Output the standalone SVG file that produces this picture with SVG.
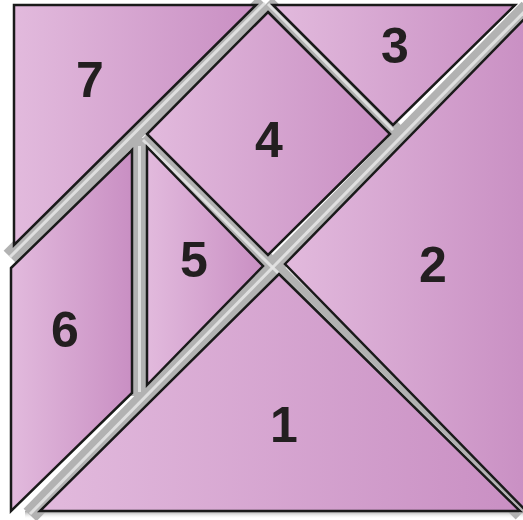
<svg xmlns="http://www.w3.org/2000/svg" width="523" height="520" viewBox="0 0 523 520">
<defs>
<linearGradient id="pink" x1="0" y1="0" x2="1" y2="0">
<stop offset="0" stop-color="#e2badd"/>
<stop offset="1" stop-color="#c98fc3"/>
</linearGradient>
<linearGradient id="shadow" x1="0" y1="0" x2="0" y2="1">
<stop offset="0" stop-color="#a0a0a0"/>
<stop offset="1" stop-color="#ffffff" stop-opacity="0"/>
</linearGradient>
<style>
.piece{fill:url(#pink);stroke:#1a1a1a;stroke-width:2.5;stroke-linejoin:miter}
.num{font-family:"Liberation Sans","Open Sans",Arial,sans-serif;font-weight:bold;font-size:50px;fill:#231f20;text-anchor:middle}
.gap{stroke:#b2b2b2;stroke-width:18;fill:none}
.shine{stroke:#e6e6e6;stroke-width:3;fill:none;stroke-opacity:0.85}
</style>
</defs>
<rect width="523" height="520" fill="#ffffff"/>
<rect x="25" y="511" width="498" height="8" fill="url(#shadow)"/>
<g id="gaps">
<line class="gap" x1="264" y1="3" x2="10" y2="257"/>
<line class="gap" x1="528" y1="8" x2="30" y2="515"/>
<line class="gap" x1="266" y1="4" x2="395" y2="132"/>
<line class="gap" x1="142" y1="139" x2="522" y2="513"/>
<line class="gap" x1="139.5" y1="138" x2="139.5" y2="396"/>
<line class="shine" x1="265" y1="3" x2="10" y2="257"/>
<line class="shine" x1="526" y1="10" x2="30" y2="514"/>
<line class="shine" x1="268" y1="4" x2="393" y2="130"/>
<line class="shine" x1="143" y1="140" x2="521" y2="512"/>
<line class="shine" x1="139.5" y1="146" x2="139.5" y2="392"/>
</g>
<g id="piece7">
<polygon class="piece" points="14,5 256,5 14,245"/>
<text class="num" x="90" y="97">7</text>
</g>
<g id="piece3">
<polygon class="piece" points="273,5 515,5 393,125"/>
<text class="num" x="395" y="63">3</text>
</g>
<g id="piece4">
<polygon class="piece" points="268,12 390,134 268,255 147,134"/>
<text class="num" x="269" y="157">4</text>
</g>
<g id="piece2">
<polygon class="piece" points="285,264 530,13 530,515"/>
<text class="num" x="433" y="282">2</text>
</g>
<g id="piece1">
<polygon class="piece" points="279,274 520,511 40,511"/>
<text class="num" x="284" y="442">1</text>
</g>
<g id="piece5">
<polygon class="piece" points="147,147 263,266 147,385"/>
<text class="num" x="194" y="277">5</text>
</g>
<g id="piece6">
<polygon class="piece" points="11,268 132,150 132,393 11,511"/>
<text class="num" x="65" y="347">6</text>
</g>
</svg>
